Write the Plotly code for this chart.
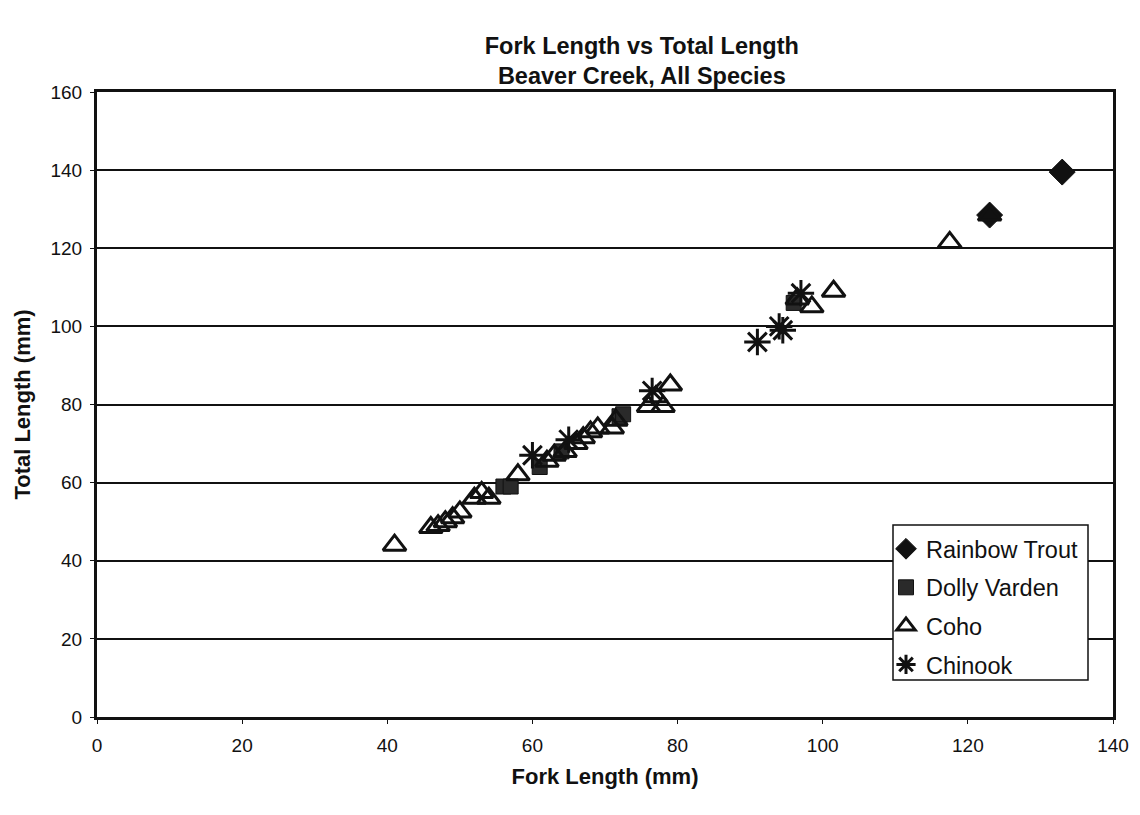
import plotly.graph_objects as go

# ---- data ----
rainbow_x = [123, 133]
rainbow_y = [128.5, 139.5]

dolly_x = [56, 57, 61, 64, 72, 72.5, 96]
dolly_y = [59, 59, 64, 68, 77, 77.5, 106]

coho_x = [41, 46, 47, 48, 49, 50, 52, 53, 54, 58, 62, 63, 64.5, 66, 67, 68,
          69, 71, 71.5, 76, 77, 78, 79, 96.5, 98.5, 101.5, 117.5, 123]
coho_y = [44, 48.5, 49, 50, 51, 52.5, 56, 57.5, 56, 62, 65.5, 67, 68, 70, 71.5, 73,
          74, 74, 76, 79.5, 82, 79.5, 85, 107, 105, 109, 121.5, 128.5]

chinook_x = [60, 65, 76.5, 91, 94, 94.5, 97]
chinook_y = [67, 71, 83.5, 96, 100, 99, 108.5]

x_ticks = [0, 20, 40, 60, 80, 100, 120, 140]
y_ticks = [0, 20, 40, 60, 80, 100, 120, 140, 160]

FONT = "Liberation Sans, Arial, sans-serif"
INK = "#111111"

# plot-area geometry (pixels)
L, R, T, B = 97, 27, 92, 98
W, H = 1140, 815
PW, PH = W - L - R, H - T - B


def px_to_paper_x(px):
    return (px - L) / PW


def px_to_paper_y(py):
    return (H - B - py) / PH


fig = go.Figure()
fig.add_trace(go.Scatter(
    x=rainbow_x, y=rainbow_y, mode="markers", name="Rainbow Trout",
    legendgroup="a",
    marker=dict(symbol="diamond", size=20, color=INK,
                line=dict(color=INK, width=1))))
fig.add_trace(go.Scatter(
    x=dolly_x, y=dolly_y, mode="markers", name="Dolly Varden",
    legendgroup="b",
    marker=dict(symbol="square", size=15, color="#2a2a2a",
                line=dict(color=INK, width=1))))
fig.add_trace(go.Scatter(
    x=coho_x, y=coho_y, mode="markers", name="Coho",
    legendgroup="c",
    marker=dict(symbol="triangle-up-open", size=20, color=INK,
                line=dict(color=INK, width=3))))
fig.add_trace(go.Scatter(
    x=chinook_x, y=chinook_y, mode="markers", name="Chinook",
    legendgroup="d",
    marker=dict(symbol="asterisk-open", size=22, color=INK,
                line=dict(color=INK, width=3))))

# legend frame (drawn as a shape so the text can sit close to the symbols)
fig.add_shape(type="rect", xref="paper", yref="paper",
              x0=px_to_paper_x(893), x1=px_to_paper_x(1088),
              y0=px_to_paper_y(680), y1=px_to_paper_y(525),
              fillcolor="white", line=dict(color=INK, width=1.5), layer="above")

fig.update_layout(
    width=W, height=H,
    margin=dict(l=L, r=R, t=T, b=B),
    paper_bgcolor="white", plot_bgcolor="white",
    font=dict(family=FONT, size=19, color=INK),
    title=dict(
        text="<b>Fork Length vs Total Length</b><br><b>Beaver Creek, All Species</b>",
        x=0.563, xanchor="center", y=0.934, yanchor="top",
        font=dict(family=FONT, size=23.5, color=INK)),
    xaxis=dict(
        range=[0, 140], tickvals=x_ticks, ticktext=[str(v) for v in x_ticks],
        showgrid=False, zeroline=False,
        showline=True, linecolor=INK, linewidth=3, mirror=True,
        ticks="outside", ticklen=4, tickcolor=INK,
        tickfont=dict(size=19), ticklabelstandoff=5,
        title=dict(text="<b>Fork Length (mm)</b>", font=dict(size=22), standoff=14)),
    yaxis=dict(
        range=[0, 160], tickvals=y_ticks, ticktext=[str(v) for v in y_ticks],
        showgrid=True, gridcolor=INK, gridwidth=1.6, zeroline=False,
        showline=True, linecolor=INK, linewidth=3, mirror=True,
        ticks="outside", ticklen=4, tickcolor=INK,
        tickfont=dict(size=19), ticklabelstandoff=4,
        title=dict(text="<b>Total Length (mm)</b>", font=dict(size=22), standoff=14)),
    legend=dict(
        x=px_to_paper_x(886), xanchor="left", y=px_to_paper_y(527), yanchor="top",
        bgcolor="rgba(0,0,0,0)", borderwidth=0,
        font=dict(family=FONT, size=23.5, color=INK),
        tracegroupgap=5, itemwidth=30),
    showlegend=True,
)

fig.write_html("out.html")
